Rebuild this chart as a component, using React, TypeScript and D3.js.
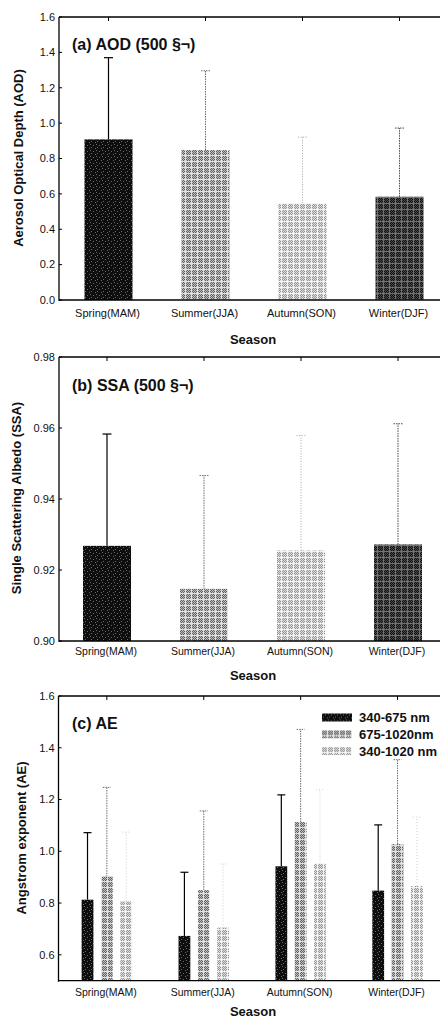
import React from "react";
import * as d3 from "d3";

// Seasonal categories shared by all three panels
const seasons = ["Spring(MAM)", "Summer(JJA)", "Autumn(SON)", "Winter(DJF)"];

// (a) Aerosol optical depth at 500 nm: seasonal mean and mean + 1 SD
const aodMean = [0.908, 0.848, 0.547, 0.584];
const aodUpper = [1.37, 1.296, 0.921, 0.972];
const aodTicks = [0, 0.2, 0.4, 0.6, 0.8, 1.0, 1.2, 1.4, 1.6];

// (b) Single scattering albedo at 500 nm
const ssaMean = [0.9268, 0.9147, 0.9255, 0.9272];
const ssaUpper = [0.9583, 0.9466, 0.9579, 0.9612];
const ssaTicks = [0.9, 0.92, 0.94, 0.96, 0.98];

// (c) Angstrom exponent for three wavelength pairs
const aeSeries = ["340-675 nm", "675-1020nm", "340-1020 nm"];
const ae340675 = [0.813, 0.673, 0.942, 0.848];
const ae6751020 = [0.902, 0.85, 1.113, 1.028];
const ae3401020 = [0.806, 0.705, 0.953, 0.866];
const ae340675Upper = [1.072, 0.919, 1.218, 1.102];
const ae6751020Upper = [1.247, 1.156, 1.471, 1.354];
const ae3401020Upper = [1.074, 0.951, 1.238, 1.132];
const aeTicks = [0.6, 0.8, 1.0, 1.2, 1.4, 1.6];

const FONT = "'Liberation Sans', Arial, Helvetica, sans-serif";
const W = 440;
const H = 1019;

// Screen-tone fills, each a 6x6 cell: 0 = base, 1 = dots, 2 = grid lines
type Tone = { id: string; mask: string[]; colors: string[] };
const checkerMask = ["101012", "010102", "101012", "010102", "101012", "222222"];
const tones: Tone[] = [
  {
    id: "tone-dark",
    mask: ["100000", "000100", "000000", "010000", "000001", "000000"],
    colors: ["#0e0e0e", "#6a6a6a", "#2c2c2c"],
  },
  { id: "tone-mid", mask: checkerMask, colors: ["#606060", "#c2c2c2", "#e2e2e2"] },
  { id: "tone-light", mask: checkerMask, colors: ["#959595", "#dedede", "#f3f3f3"] },
  { id: "tone-deep", mask: checkerMask, colors: ["#111111", "#4a4a4a", "#727272"] },
];

type ErrStyle = { stroke: string; dash?: string; width: number };
const errStyles: Record<string, ErrStyle> = {
  "tone-dark": { stroke: "#000", width: 1.2 },
  "tone-mid": { stroke: "#6e6e6e", dash: "1.5 1", width: 1 },
  "tone-light": { stroke: "#a6a6a6", dash: "1 1.6", width: 1 },
  "tone-deep": { stroke: "#4a4a4a", dash: "1.5 1", width: 1 },
  "tone-light-faint": { stroke: "#cfcfcf", dash: "1 2", width: 1 },
};

function Patterns() {
  return (
    <defs>
      {tones.map((t) => (
        <pattern key={t.id} id={t.id} width={6} height={6} patternUnits="userSpaceOnUse">
          {t.mask.flatMap((row, y) =>
            row.split("").map((c, x) => (
              <rect key={`${x}-${y}`} x={x} y={y} width={1} height={1} fill={t.colors[+c]} />
            ))
          )}
        </pattern>
      ))}
    </defs>
  );
}

type Frame = {
  axisX: number;
  bandX: number;
  top: number;
  bottom: number;
  domain: [number, number];
  ticks: number[];
  fmt: (n: number) => string;
  title: string;
  titleY: number;
  yLabel: string;
  yLabelX: number;
  yLabelY: number;
  catFont: number;
  catY: number;
  seasonY: number;
};

function Axes({ f, y, x }: { f: Frame; y: d3.ScaleLinear<number, number>; x: d3.ScaleBand<string> }) {
  return (
    <g fontFamily={FONT}>
      {/* frame: left, top and bottom edges */}
      <line x1={f.axisX} x2={f.axisX} y1={f.top} y2={f.bottom + 1} stroke="#000" strokeWidth={1.3} />
      <line x1={f.axisX} x2={W + 10} y1={f.top} y2={f.top} stroke="#000" strokeWidth={1.3} />
      <line x1={f.axisX} x2={W + 10} y1={f.bottom} y2={f.bottom} stroke="#000" strokeWidth={1.3} />
      {f.ticks.map((t) => (
        <g key={t}>
          <line x1={f.axisX} x2={f.axisX + 3} y1={y(t)} y2={y(t)} stroke="#000" strokeWidth={1} />
          <text x={f.axisX - 4} y={y(t)} dy="0.35em" textAnchor="end" fontSize={11} fill="#111">
            {f.fmt(t)}
          </text>
        </g>
      ))}
      {seasons.map((s) => (
        <g key={s}>
          <line
            x1={x(s)! + x.bandwidth() / 2}
            x2={x(s)! + x.bandwidth() / 2}
            y1={f.top}
            y2={f.top + 4}
            stroke="#000"
            strokeWidth={1}
          />
          <text x={x(s)! + x.bandwidth() / 2 - 1} y={f.catY} textAnchor="middle" fontSize={f.catFont} fill="#111">
            {s}
          </text>
        </g>
      ))}
      <text x={253} y={f.seasonY} textAnchor="middle" fontSize={13} fontWeight="bold" fill="#111">
        Season
      </text>
      <text
        transform={`translate(${f.yLabelX},${f.yLabelY}) rotate(-90)`}
        textAnchor="middle"
        fontSize={13}
        fontWeight="bold"
        fill="#111"
      >
        {f.yLabel}
      </text>
      <text x={72} y={f.titleY} fontSize={16} fontWeight="bold" fill="#111">
        {f.title}
      </text>
    </g>
  );
}

function ErrorBar({ cx, y0, y1, cap, tone }: { cx: number; y0: number; y1: number; cap: number; tone: string }) {
  const s = errStyles[tone];
  return (
    <g stroke={s.stroke} strokeWidth={s.width} strokeDasharray={s.dash} fill="none">
      <line x1={cx} x2={cx} y1={y0} y2={y1} />
      <line x1={cx - cap / 2} x2={cx + cap / 2} y1={y1} y2={y1} />
    </g>
  );
}

const seasonTones = ["tone-dark", "tone-mid", "tone-light", "tone-deep"];

function SinglePanel({ f, mean, upper }: { f: Frame; mean: number[]; upper: number[] }) {
  const y = d3.scaleLinear().domain(f.domain).range([f.bottom, f.top]);
  const x = d3
    .scaleBand<string>()
    .domain(seasons)
    .range([f.bandX, f.bandX + 4 * 97])
    .paddingInner(0.505)
    .paddingOuter(0.2525);
  return (
    <g>
      {seasons.map((s, i) => {
        const cx = x(s)! + x.bandwidth() / 2;
        return (
          <g key={s}>
            <ErrorBar cx={cx} y0={y(mean[i])} y1={y(upper[i])} cap={9} tone={seasonTones[i]} />
            <rect
              x={x(s)!}
              y={y(mean[i])}
              width={x.bandwidth()}
              height={f.bottom - y(mean[i])}
              fill={`url(#${seasonTones[i]})`}
            />
          </g>
        );
      })}
      <Axes f={f} y={y} x={x} />
    </g>
  );
}

const aeMeans = [ae340675, ae6751020, ae3401020];
const aeUppers = [ae340675Upper, ae6751020Upper, ae3401020Upper];
const aeTones = ["tone-dark", "tone-mid", "tone-light"];
const aeErrTones = ["tone-dark", "tone-mid", "tone-light-faint"];

function GroupedPanel({ f }: { f: Frame }) {
  const y = d3.scaleLinear().domain(f.domain).range([f.bottom, f.top]);
  const x = d3
    .scaleBand<string>()
    .domain(seasons)
    .range([f.bandX, f.bandX + 4 * 96.9])
    .paddingInner(0.5)
    .paddingOuter(0.25);
  const x1 = d3.scaleBand<string>().domain(aeSeries).range([-29, 29]).paddingInner(0.39).paddingOuter(0.195);
  return (
    <g>
      {seasons.map((s, i) => {
        const gc = x(s)! + x.bandwidth() / 2;
        return (
          <g key={s}>
            {aeSeries.map((k, j) => {
              const bx = gc + x1(k)!;
              const v = aeMeans[j][i];
              return (
                <g key={k}>
                  <ErrorBar
                    cx={bx + x1.bandwidth() / 2}
                    y0={y(v)}
                    y1={y(aeUppers[j][i])}
                    cap={8}
                    tone={aeErrTones[j]}
                  />
                  <rect x={bx} y={y(v)} width={x1.bandwidth()} height={f.bottom - y(v)} fill={`url(#${aeTones[j]})`} />
                </g>
              );
            })}
          </g>
        );
      })}
      <Axes f={f} y={y} x={x} />
      {/* legend */}
      <g fontFamily={FONT}>
        {aeSeries.map((k, j) => (
          <g key={k} transform={`translate(322,${713.5 + j * 16.8})`}>
            <rect x={0} y={0} width={30} height={8} fill={`url(#${aeTones[j]})`} />
            <text x={37} y={4} dy="0.36em" fontSize={13} fontWeight="bold" fill="#111">
              {k}
            </text>
          </g>
        ))}
      </g>
    </g>
  );
}

const fmt1 = d3.format(".1f");
const fmt2 = d3.format(".2f");

const frameA: Frame = {
  axisX: 59,
  bandX: 60,
  top: 17,
  bottom: 300,
  domain: [0, 1.6],
  ticks: aodTicks,
  fmt: fmt1,
  title: "(a) AOD (500 §¬)",
  titleY: 50,
  yLabel: "Aerosol Optical Depth (AOD)",
  yLabelX: 23,
  yLabelY: 158,
  catFont: 11,
  catY: 317,
  seasonY: 344,
};

const frameB: Frame = {
  axisX: 59,
  bandX: 58.5,
  top: 357,
  bottom: 641,
  domain: [0.9, 0.98],
  ticks: ssaTicks,
  fmt: fmt2,
  title: "(b) SSA (500 §¬)",
  titleY: 391,
  yLabel: "Single Scattering Albedo (SSA)",
  yLabelX: 21,
  yLabelY: 498,
  catFont: 10.5,
  catY: 655,
  seasonY: 680,
};

const frameC: Frame = {
  axisX: 58.5,
  bandX: 58.4,
  top: 696,
  bottom: 980.7,
  domain: [0.5, 1.6],
  ticks: aeTicks,
  fmt: fmt1,
  title: "(c) AE",
  titleY: 729,
  yLabel: "Angstrom exponent (AE)",
  yLabelX: 26,
  yLabelY: 838,
  catFont: 10.5,
  catY: 996,
  seasonY: 1016,
};

export default function App() {
  return (
    <svg
      width={W}
      height={H}
      viewBox={`0 0 ${W} ${H}`}
      style={{ position: "absolute", left: 0, top: 0, background: "#fff", overflow: "hidden" }}
    >
      <Patterns />
      <rect width={W} height={H} fill="#fff" />
      <SinglePanel f={frameA} mean={aodMean} upper={aodUpper} />
      <SinglePanel f={frameB} mean={ssaMean} upper={ssaUpper} />
      <GroupedPanel f={frameC} />
    </svg>
  );
}
